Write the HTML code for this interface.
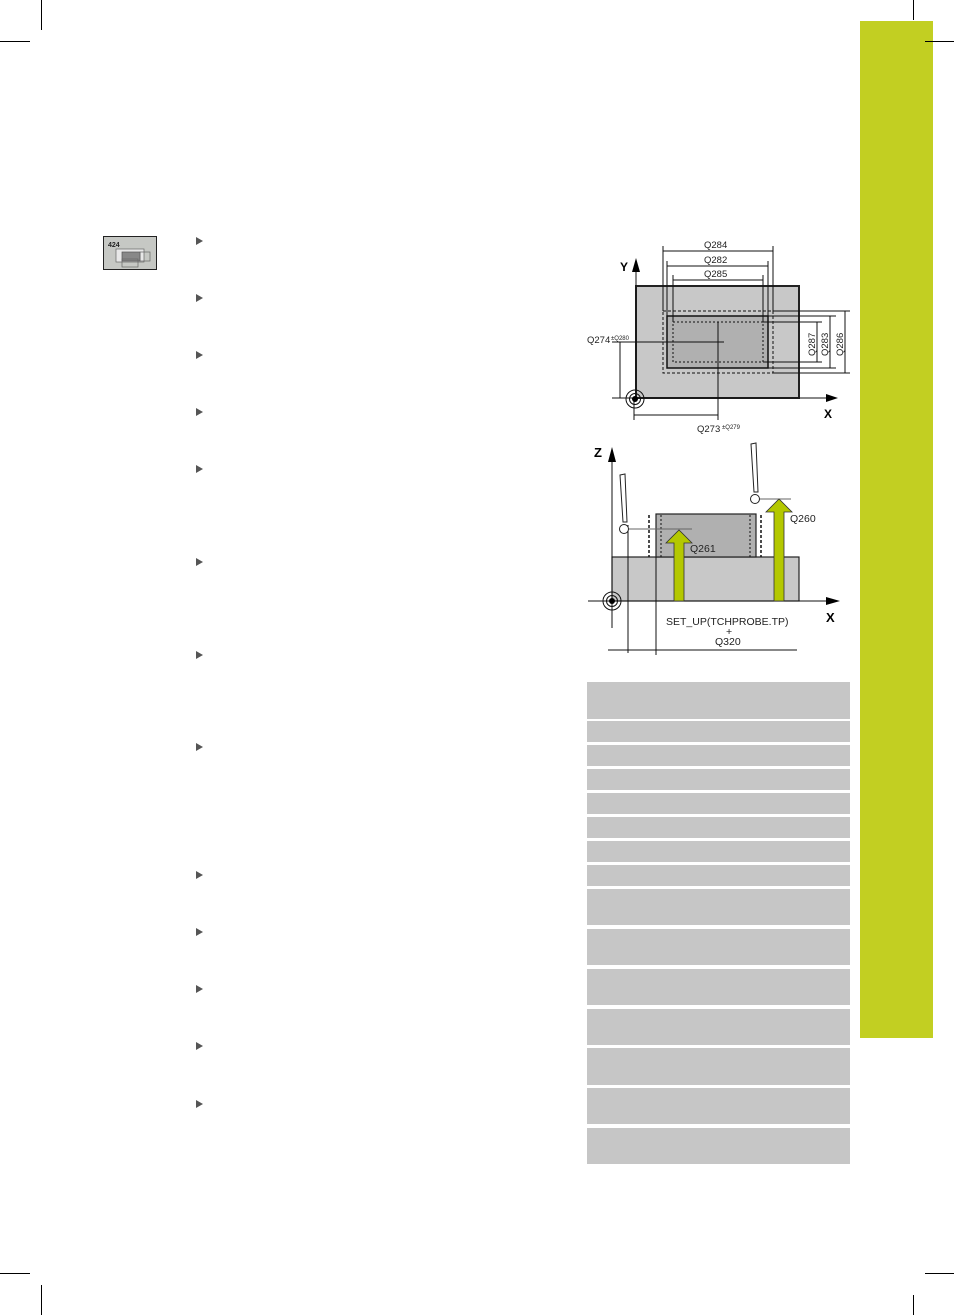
<!DOCTYPE html>
<html><head><meta charset="utf-8"><style>
html,body{margin:0;padding:0;background:#fff;}
body{width:954px;height:1315px;position:relative;overflow:hidden;font-family:"Liberation Sans",sans-serif;}
.abs{position:absolute;}
.tri{position:absolute;left:196px;width:0;height:0;border-left:7px solid #555;border-top:4.5px solid transparent;border-bottom:4.5px solid transparent;}
.row{position:absolute;left:587px;width:263px;background:#c6c6c6;}
</style></head><body>
<div class="abs" style="left:860px;top:21px;width:73px;height:1017px;background:#c2cf22"></div>
<svg class="abs" style="left:0;top:0" width="954" height="1315">
<g stroke="#000" stroke-width="1">
<line x1="41.5" y1="0" x2="41.5" y2="30"/><line x1="0" y1="41.5" x2="30" y2="41.5"/>
<line x1="913.5" y1="0" x2="913.5" y2="20"/><line x1="925" y1="41.5" x2="954" y2="41.5"/>
<line x1="41.5" y1="1285" x2="41.5" y2="1315"/><line x1="0" y1="1273.5" x2="30" y2="1273.5"/>
<line x1="913.5" y1="1295" x2="913.5" y2="1315"/><line x1="925" y1="1273.5" x2="954" y2="1273.5"/>
</g>
<!-- icon -->
<rect x="103.5" y="236.5" width="53" height="33" fill="#c6c8c4" stroke="#222"/>
<text x="108" y="247" font-size="7" font-weight="bold" fill="#222">424</text>
<rect x="116" y="249" width="28" height="13" fill="#e8e8e8" stroke="#666" stroke-width="0.7"/>
<rect x="122" y="252" width="18" height="9" fill="#888" stroke="#555" stroke-width="0.7"/>
<rect x="122" y="259" width="16" height="8" fill="none" stroke="#666" stroke-width="0.7"/>
<rect x="140" y="252" width="10" height="9" fill="none" stroke="#666" stroke-width="0.7"/>

<!-- top diagram -->
<rect x="636" y="286" width="163" height="112" fill="#c8c8c8" stroke="#222" stroke-width="2"/>
<rect x="667" y="316" width="101" height="52" fill="#b0b0b0" stroke="#111" stroke-width="1.5"/>
<g fill="none" stroke="#111" stroke-width="1">
<rect x="663" y="311" width="110" height="62" stroke-dasharray="3,2"/>
<rect x="673" y="322" width="90" height="40" stroke-dasharray="2,2"/>
<line x1="663" y1="246" x2="663" y2="311"/><line x1="773" y1="246" x2="773" y2="311"/>
<line x1="667" y1="261" x2="667" y2="316"/><line x1="768" y1="261" x2="768" y2="316"/>
<line x1="673" y1="275" x2="673" y2="322"/><line x1="763" y1="275" x2="763" y2="322"/>
<line x1="663" y1="251" x2="773" y2="251"/><line x1="667" y1="266" x2="768" y2="266"/><line x1="673" y1="280" x2="763" y2="280"/>
<line x1="773" y1="311" x2="850" y2="311"/><line x1="773" y1="373" x2="850" y2="373"/>
<line x1="768" y1="316" x2="836" y2="316"/><line x1="768" y1="368" x2="836" y2="368"/>
<line x1="763" y1="322" x2="822" y2="322"/><line x1="763" y1="362" x2="822" y2="362"/>
<line x1="845" y1="311" x2="845" y2="373"/><line x1="830" y1="316" x2="830" y2="368"/><line x1="817" y1="322" x2="817" y2="362"/>
<line x1="612" y1="342" x2="724" y2="342"/><line x1="718" y1="322" x2="718" y2="420"/>
<line x1="620" y1="342" x2="620" y2="398"/><line x1="634" y1="415" x2="718" y2="415"/>
<line x1="634" y1="398" x2="634" y2="420"/>
<line x1="612" y1="398" x2="826" y2="398"/><line x1="636" y1="398" x2="636" y2="270"/>
<circle cx="635" cy="399" r="9"/><circle cx="635" cy="399" r="5.5"/>
</g>
<circle cx="635" cy="399" r="3" fill="#000"/>
<polygon points="632,272 640,272 636,258" fill="#000"/>
<polygon points="826,394 826,402 838,398" fill="#000"/>
<g font-size="9.5" fill="#222">
<text x="704" y="248">Q284</text><text x="704" y="263">Q282</text><text x="704" y="277">Q285</text>
<text x="587" y="343">Q274</text><text x="611" y="340" font-size="6">±Q280</text>
<text x="697" y="432">Q273</text><text x="722" y="429" font-size="6">±Q279</text>
<text transform="translate(815,356) rotate(-90)">Q287</text>
<text transform="translate(828,356) rotate(-90)">Q283</text>
<text transform="translate(843,356) rotate(-90)">Q286</text>
</g>
<text x="620" y="271" font-size="12" font-weight="bold">Y</text>
<text x="824" y="418" font-size="12" font-weight="bold">X</text>

<!-- bottom diagram -->
<rect x="612" y="557" width="187" height="44" fill="#c8c8c8" stroke="#222" stroke-width="1.2"/>
<rect x="656" y="514" width="100" height="43" fill="#b0b0b0" stroke="#222" stroke-width="1.2"/>
<g fill="none" stroke="#111" stroke-width="1">
<line x1="649" y1="515" x2="649" y2="557" stroke-dasharray="3,2" stroke-width="1.5"/>
<line x1="661" y1="515" x2="661" y2="557" stroke-dasharray="2,2"/>
<line x1="750" y1="515" x2="750" y2="557" stroke-dasharray="2,2"/>
<line x1="761" y1="515" x2="761" y2="557" stroke-dasharray="3,2" stroke-width="1.5"/>
<line x1="612" y1="450" x2="612" y2="628"/>
<line x1="588" y1="601" x2="828" y2="601"/>
<line x1="628" y1="525" x2="628" y2="653"/><line x1="656" y1="557" x2="656" y2="655"/>
<line x1="608" y1="650" x2="797" y2="650"/>
<circle cx="612" cy="601" r="9"/><circle cx="612" cy="601" r="5.5"/>
</g>
<circle cx="612" cy="601" r="3" fill="#000"/>
<polygon points="608,462 616,462 612,447" fill="#000"/>
<polygon points="826,597 826,605 840,601" fill="#000"/>
<g stroke="#666" stroke-width="1"><line x1="628" y1="529" x2="692" y2="529"/><line x1="759" y1="499" x2="791" y2="499"/></g>
<g fill="#fff" stroke="#222" stroke-width="1">
<polygon points="620,475 625,474 627,522 623,522"/><circle cx="624" cy="529" r="4.5"/>
<polygon points="751,444 756,443 758,492 754,492"/><circle cx="755" cy="499" r="4.5"/>
</g>
<g fill="#b4c800" stroke="#333" stroke-width="0.8">
<polygon points="674,601 674,543 666,543 679,530 692,543 684,543 684,601"/>
<polygon points="774,601 774,512 766,512 779,499 792,512 784,512 784,601"/>
</g>
<g font-size="10.5" fill="#222">
<text x="690" y="552">Q261</text><text x="790" y="522">Q260</text>
<text x="666" y="625">SET_UP(TCHPROBE.TP)</text><text x="726" y="635">+</text><text x="715" y="645">Q320</text>
</g>
<text x="594" y="457" font-size="13" font-weight="bold">Z</text>
<text x="826" y="622" font-size="13" font-weight="bold">X</text>
</svg>
<div class="tri" style="top:237px"></div><div class="tri" style="top:294px"></div><div class="tri" style="top:351px"></div>
<div class="tri" style="top:408px"></div><div class="tri" style="top:465px"></div><div class="tri" style="top:558px"></div>
<div class="tri" style="top:651px"></div><div class="tri" style="top:743px"></div><div class="tri" style="top:871px"></div>
<div class="tri" style="top:928px"></div><div class="tri" style="top:985px"></div><div class="tri" style="top:1042px"></div>
<div class="tri" style="top:1100px"></div>
<div class="row" style="top:682px;height:37px"></div>
<div class="row" style="top:721px;height:21px"></div>
<div class="row" style="top:745px;height:21px"></div>
<div class="row" style="top:769px;height:21px"></div>
<div class="row" style="top:793px;height:21px"></div>
<div class="row" style="top:817px;height:21px"></div>
<div class="row" style="top:841px;height:21px"></div>
<div class="row" style="top:865px;height:21px"></div>
<div class="row" style="top:889px;height:36px"></div>
<div class="row" style="top:929px;height:36px"></div>
<div class="row" style="top:969px;height:36px"></div>
<div class="row" style="top:1009px;height:36px"></div>
<div class="row" style="top:1048px;height:37px"></div>
<div class="row" style="top:1088px;height:36px"></div>
<div class="row" style="top:1128px;height:36px"></div>
</body></html>
